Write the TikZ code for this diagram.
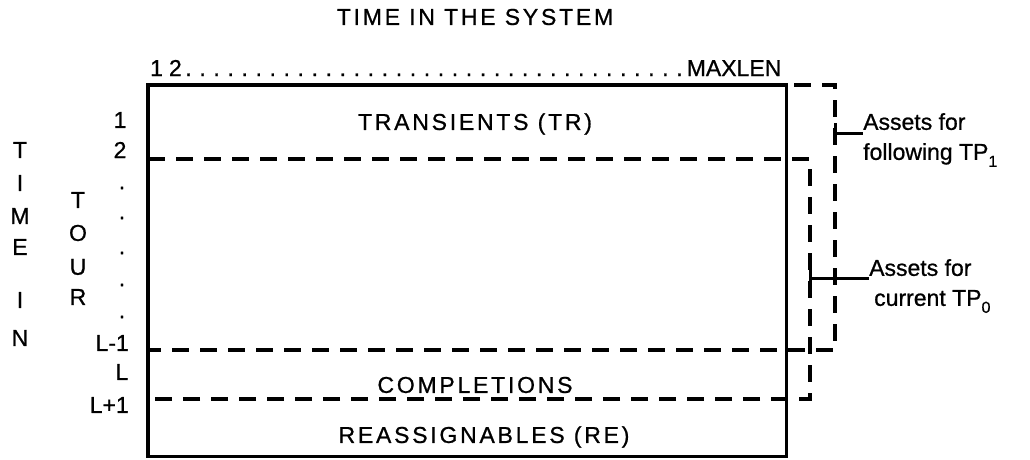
\documentclass[tikz,border=0pt]{standalone}
\usepackage{fontspec}
\setmainfont{Liberation Sans}[FakeBold=0.8]
\newfontfamily\capsfont{Liberation Sans}[LetterSpace=12,FakeBold=0.8]
\begin{document}
\begin{tikzpicture}[x=1pt,y=-1pt,
  lbl/.style={font=\capsfont\fontsize{23}{27}\selectfont, inner sep=0pt},
  ltr/.style={font=\fontsize{23}{27}\selectfont, inner sep=0pt},
  side/.style={font=\fontsize{23}{30}\selectfont, align=left, inner sep=0pt, anchor=north west},
  boxframe/.style={line width=3.5pt},
  dsh/.style={line width=3.3pt, dash pattern=on 17pt off 11pt},
  tickline/.style={line width=3pt}]
\useasboundingbox (0,0) rectangle (1030,460);
% box
\node[minimum width=638pt, minimum height=371pt, anchor=north west, inner sep=0pt] (box) at (148,85) {};
\draw[boxframe] (box.north west) rectangle (box.south east);
% headings
\node[lbl] (title) at (475,17) {TIME IN THE SYSTEM};
\node[ltr, anchor=west] (scale) at (150,68) {\makebox[631pt]{1\kern6pt2\xleaders\hbox{\kern3.5pt.\kern4pt}\hfill MAXLEN}};
\node[lbl] (tr) at (475,124) {TRANSIENTS (TR)};
\node[lbl] (co) at (475,385) {COMPLETIONS};
\node[lbl] (re) at (484,437) {REASSIGNABLES (RE)};
% dashed lines
\coordinate (d1l) at (148,159);
\coordinate (d1r) at (810,159);
\coordinate (d3r) at (810,399);
\coordinate (d3l) at (148,399);
\draw[dsh] (d1l) -- (d1r) -- (d3r) -- (d3l);
\coordinate (o1) at (835,85);
\coordinate (o2) at (835,350);
\coordinate (o3) at (148,350);
\draw[dsh, dash phase=20pt] (box.north east) -- (o1) -- (o2) -- (o3);
% labels on the right
\node[side] (lab1) at (863,113) {Assets for\\following TP\raisebox{-7pt}{\fontsize{16}{16}\selectfont 1}};
\node[side] (lab0) at (869,259) {Assets for\\\hspace{5pt}current TP\raisebox{-7pt}{\fontsize{16}{16}\selectfont 0}};
\coordinate (tk1) at (835,133);
\coordinate (tk0) at (810,278);
\draw[tickline] (835,123) -- (835,143);
\draw[tickline] (tk1) -- (tk1 -| lab1.west);
\draw[tickline] (810,266) -- (810,290);
\draw[tickline] (tk0) -- (tk0 -| lab0.west);
% left columns
\foreach \t/\y/\n in {T/150/a, I/183/b, M/216/c, E/247/d, I/300/e, N/338/f}
  \node[ltr] (time\n) at (20,\y) {\t};
\foreach \t/\y/\n in {T/200/a, O/233/b, U/267/c, R/297/d}
  \node[ltr] (tour\n) at (78,\y) {\t};
\node[ltr] (n1) at (120,120) {1};
\node[ltr] (n2) at (120,150) {2};
\foreach \y/\n in {188/a, 218/b, 253/c, 285/d, 317/e}
  \node[ltr] (dot\n) at (122,\y) {.};
\node[ltr, anchor=east] (nl1) at (129,343) {L-1};
\node[ltr] (nl) at (122,372) {L};
\node[ltr, anchor=east] (nl2) at (129,405) {L+1};
\end{tikzpicture}
\end{document}
